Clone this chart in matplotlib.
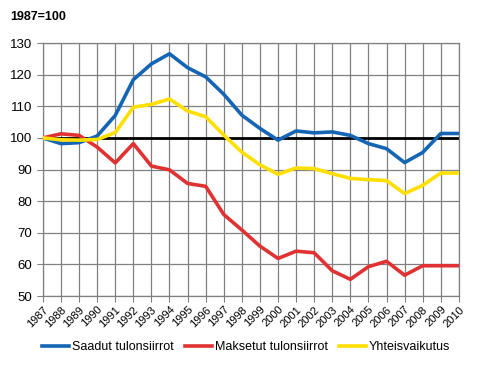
import matplotlib
matplotlib.use("Agg")
import matplotlib.pyplot as plt
import numpy as np

years = [str(y) for y in range(1987, 2011)]
saadut = [100, 98.2, 98.5, 100.6, 107.1, 118.4, 123.4, 126.6, 122.2, 119.3, 113.8, 107.2,
          103.0, 99.3, 102.2, 101.6, 101.9, 100.8, 98.2, 96.6, 92.2, 95.4, 101.4, 101.4]
maksetut = [100, 101.3, 100.8, 97.1, 92.1, 98.2, 91.1, 89.9, 85.6, 84.7, 75.8, 70.9,
            65.8, 61.9, 64.2, 63.7, 58.0, 55.3, 59.3, 61.0, 56.6, 59.6, 59.6, 59.6]
yhteis = [100, 99.4, 99.3, 99.5, 101.7, 109.7, 110.6, 112.3, 108.5, 106.7, 100.9, 95.5,
          91.5, 88.5, 90.5, 90.3, 88.7, 87.2, 86.8, 86.5, 82.4, 85.0, 88.9, 88.9]
labels = ["Saadut tulonsiirrot", "Maksetut tulonsiirrot", "Yhteisvaikutus"]
colors = ["#1565b5", "#e03232", "#ffdf00"]

plt.rcParams['font.family'] = ['Liberation Sans', 'DejaVu Sans']
fig = plt.figure(figsize=(4.82, 3.66), dpi=100)
ax = fig.add_axes([0.089, 0.191, 0.863, 0.6915])
x = np.arange(len(years))
ax.axhline(100, color="black", lw=2, zorder=2)
for vals, lab, c in zip([saadut, maksetut, yhteis], labels, colors):
    ax.plot(x, vals, color=c, lw=2.6, label=lab, zorder=3, solid_joinstyle="round")

ax.set_xlim(0, len(years) - 1)
ax.set_ylim(50, 130)
ax.set_yticks(range(50, 131, 10))
ax.set_xticks(x)
ax.set_xticklabels(years, rotation=45, ha="right", rotation_mode="anchor", fontsize=8)
ax.tick_params(axis="y", labelsize=9.5, length=4, color="#808080")
ax.tick_params(axis="x", length=4, color="#808080", pad=2)
ax.grid(True, color="#808080", lw=0.9)
for s in ax.spines.values():
    s.set_color("#808080")
    s.set_linewidth(0.9)
ax.set_axisbelow(True)

fig.text(0.021, 0.953, "1987=100", fontsize=9, fontweight="bold", va="center")
fig.legend(loc="center", bbox_to_anchor=(0.51, 0.052), ncol=3, frameon=False,
           fontsize=9, handlelength=2.2, handletextpad=0.2, columnspacing=0.9)
fig.savefig("out.png", dpi=100)
